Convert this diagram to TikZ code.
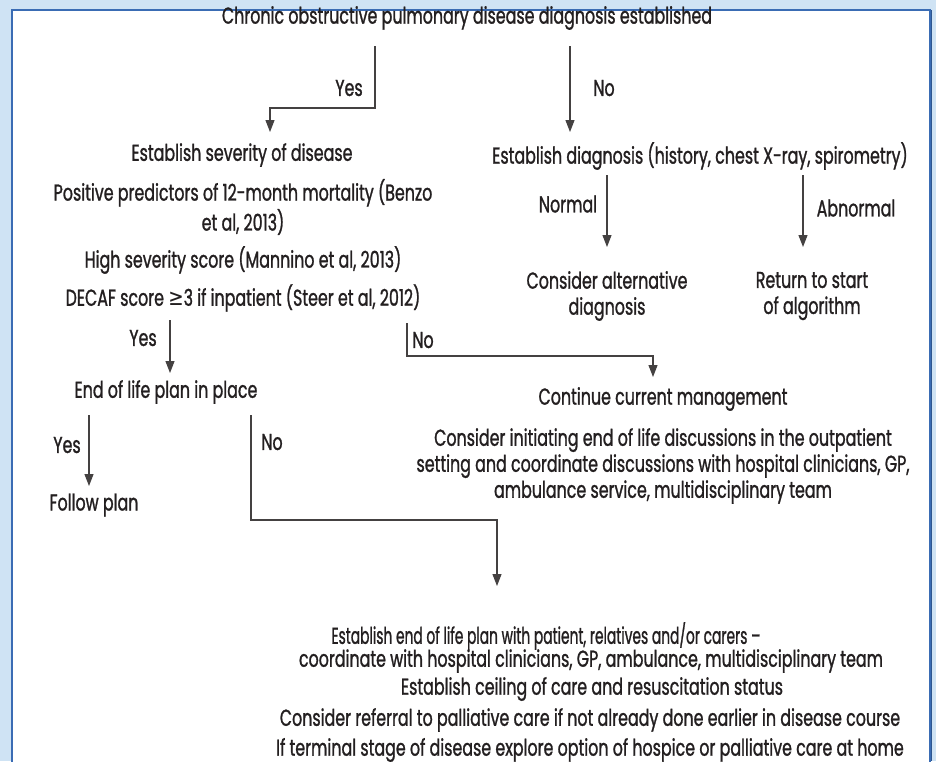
\documentclass[tikz,border=0pt]{standalone}
\usepackage{fontspec}
\setmainfont{Poppins}[FakeStretch=0.69,FakeBold=1.1]
\newfontfamily\symfont{DejaVu Sans}[FakeStretch=0.8]
\usetikzlibrary{arrows.meta}
\definecolor{bgblue}{HTML}{CFE3F4}
\definecolor{frameblue}{HTML}{3A6CB4}
\definecolor{ink}{HTML}{231F20}
\tikzset{
  txt/.style={inner sep=0pt, text=ink, font=\fontsize{23}{26}\selectfont, align=center},
  ln/.style={draw=ink!85, line width=1.1pt},
  arr/.style={ln, -{Triangle[width=9pt,length=12pt]}},
}
\begin{document}
\begin{tikzpicture}[x=1pt,y=-1pt]
\useasboundingbox (0,0) rectangle (936,761);
\clip (0,0) rectangle (936,761);
\fill[bgblue] (0,0) rectangle (936,761);
\draw[frameblue, line width=2pt, fill=white] (12,10) rectangle (930,800);
\draw[frameblue!80!black, line width=1pt] (931.5,10) -- (931.5,761);

% texts
\node[txt] (t0) at (467,18) {Chronic obstructive pulmonary disease diagnosis established};
\node[txt] (sev) at (242,155) {Establish severity of disease};
\node[txt] (diag) at (700,156) {Establish diagnosis (history, chest X-ray, spirometry)};
\node[txt, font=\fontsize{23}{30}\selectfont] (pred) at (243,207) {Positive predictors of 12-month mortality (Benzo\\et al, 2013)};
\node[txt] (high) at (243,260) {High severity score (Mannino et al, 2013)};
\node[txt] (decaf) at (243,298) {DECAF score {\symfont ≥}3 if inpatient (Steer et al, 2012)};
\node[txt] (alt) at (607,296) {Consider alternative\\diagnosis};
\node[txt] (ret) at (812,296) {Return to start\\of algorithm};
\node[txt] (eol) at (166,392) {End of life plan in place};
\node[txt] (cont) at (663,399) {Continue current management};
\node[txt] (consid) at (663,466) {Consider initiating end of life discussions in the outpatient\\setting and coordinate discussions with hospital clinicians, GP,\\ambulance service, multidisciplinary team};
\node[txt] (follow) at (94,505) {Follow plan};
\node[txt] (est1) at (546,636) {\scalebox{0.87}[1]{Establish end of life plan with patient, relatives and/or carers --}};
\node[txt] (est2) at (591,661) {coordinate with hospital clinicians, GP, ambulance, multidisciplinary team};
\node[txt] (ceil) at (592,689) {Establish ceiling of care and resuscitation status};
\node[txt] (refr) at (590,720) {Consider referral to palliative care if not already done earlier in disease course};
\node[txt] (term) at (590,750) {If terminal stage of disease explore option of hospice or palliative care at home};

% labels
\node[txt] (lyes1) at (349,88) {Yes};
\node[txt] (lno1) at (604,88) {No};
\node[txt] (lnorm) at (568,204) {Normal};
\node[txt] (labn) at (856,208) {Abnormal};
\node[txt] (lyes2) at (143,338) {Yes};
\node[txt] (lno2) at (423,340) {No};
\node[txt] (lyes3) at (67,445) {Yes};
\node[txt] (lno3) at (272,442) {No};

% connector points
\coordinate (a1) at (375,46);
\coordinate (a2) at (375,108);
\coordinate (a3) at (270,108);
\coordinate (a4) at (270,132);
\coordinate (b1) at (570,46);
\coordinate (b2) at (570,132);
\coordinate (n1) at (607,175);
\coordinate (n2) at (607,247);
\coordinate (m1) at (803,175);
\coordinate (m2) at (803,247);
\coordinate (y1) at (170,320);
\coordinate (y2) at (170,373);
\coordinate (p1) at (407,323);
\coordinate (p2) at (407,356);
\coordinate (p3) at (653,356);
\coordinate (p4) at (653,377);
\coordinate (q1) at (89,415);
\coordinate (q2) at (89,486);
\coordinate (r1) at (251,415);
\coordinate (r2) at (251,520);
\coordinate (r3) at (497,520);
\coordinate (r4) at (497,586);

\draw[arr] (a1) -- (a2) -- (a3) -- (a4);
\draw[arr] (b1) -- (b2);
\draw[arr] (n1) -- (n2);
\draw[arr] (m1) -- (m2);
\draw[arr] (y1) -- (y2);
\draw[arr] (p1) -- (p2) -- (p3) -- (p4);
\draw[arr] (q1) -- (q2);
\draw[arr] (r1) -- (r2) -- (r3) -- (r4);
\end{tikzpicture}
\end{document}
